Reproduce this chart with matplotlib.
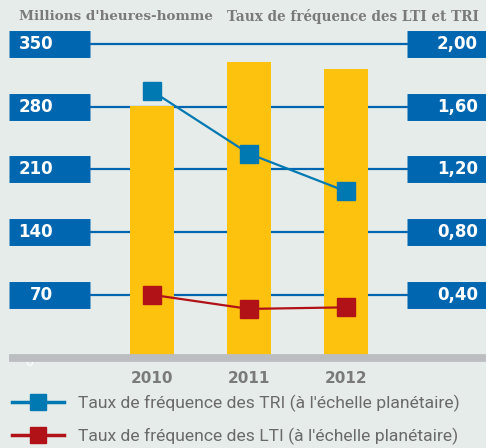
import matplotlib.pyplot as plt
from matplotlib.lines import Line2D

# data
years = ["2010", "2011", "2012"]
heures = [281, 330, 322]          # millions d'heures-homme (bars)
tri = [1.70, 1.30, 1.06]          # taux de frequence TRI
lti = [0.40, 0.31, 0.32]          # taux de frequence LTI
left_ticks = [70, 140, 210, 280, 350]
right_ticks = [0.40, 0.80, 1.20, 1.60, 2.00]

bg = "#e6ecea"
blue_box = "#0066b0"
bar_col = "#fdc20e"
tri_col = "#0079b2"
lti_col = "#b01218"
grey_txt = "#7a7a7a"

W, H = 486, 448
fig = plt.figure(figsize=(W / 100, H / 100), dpi=100, facecolor=bg)

# axes placed so that 0 sits on the grey baseline and 350 on the top grid line
ax = fig.add_axes([0, 90.5 / H, 1, 313.5 / H])
ax.set_facecolor("none")
ax.set_xlim(-152 / 97, (W - 152) / 97)
ax.set_ylim(0, 350)
for s in ax.spines.values():
    s.set_visible(False)

x = range(len(years))
ax.bar(x, heures, width=44 / 97, color=bar_col, zorder=3)

# grid lines with boxed labels on both sides
for i, v in enumerate(left_ticks):
    ax.axhline(v, xmin=90 / W, xmax=407 / W, color=blue_box, lw=1.6,
               clip_on=False, zorder=1)
    ax.axhline(v, xmin=9 / W, xmax=90 / W, color=blue_box, lw=19.4,
               solid_capstyle="butt", clip_on=False, zorder=2)
    ax.axhline(v, xmin=407 / W, xmax=1, color=blue_box, lw=19.4,
               solid_capstyle="butt", clip_on=False, zorder=2)
    ax.text(53 / W, v, str(v), transform=ax.get_yaxis_transform(), ha="right",
            va="center", color="white", fontsize=12, fontweight="bold", zorder=4)
    ax.text(478 / W, v, f"{right_ticks[i]:.2f}".replace(".", ","),
            transform=ax.get_yaxis_transform(), ha="right", va="center",
            color="white", fontsize=12, fontweight="bold", zorder=4)

# zero label mostly hidden behind the grey baseline
ax.text(33 / W, -6, "0", transform=ax.get_yaxis_transform(), ha="right",
        va="center", color="white", fontsize=9, clip_on=False, zorder=4)
ax.axhline(0, xmin=9 / W, xmax=1, color="#bcbdc0", lw=5.6,
           solid_capstyle="butt", clip_on=False, zorder=5)

ax.set_xticks(list(x), years)
ax.tick_params(axis="x", length=0, pad=10, labelsize=11, labelcolor=grey_txt)
for t in ax.get_xticklabels():
    t.set_fontweight("bold")
ax.set_yticks([])

ax2 = ax.twinx()
ax2.set_ylim(0, 2.0)
ax2.set_yticks([])
for s in ax2.spines.values():
    s.set_visible(False)
ax2.plot(x, tri, color=tri_col, lw=1.6, marker="s", ms=13, zorder=6)
ax2.plot(x, lti, color=lti_col, lw=1.6, marker="s", ms=13, zorder=6)

# titles above both scales
fig.text(19 / W, 1 - 17 / H, "Millions d'heures-homme", ha="left", va="center",
         family="DejaVu Serif", fontweight="bold", fontsize=9.7, color=grey_txt)
fig.text(479 / W, 1 - 17 / H, "Taux de fréquence des LTI et TRI", ha="right",
         va="center", family="DejaVu Serif", fontweight="bold", fontsize=9.8,
         color=grey_txt)

handles = [
    Line2D([], [], color=tri_col, lw=2.5, marker="s", ms=11.5),
    Line2D([], [], color=lti_col, lw=2.5, marker="s", ms=11.5),
]
labels = [
    "Taux de fréquence des TRI (à l'échelle planétaire)",
    "Taux de fréquence des LTI (à l'échelle planétaire)",
]
leg = fig.legend(handles, labels, loc="upper left",
                 bbox_to_anchor=(12 / W, 1 - 395 / H), frameon=False,
                 borderpad=0, borderaxespad=0,
                 handlelength=2.95, handletextpad=0.8, labelspacing=0.9,
                 prop={"family": "Roboto", "size": 12.6})
for t in leg.get_texts():
    t.set_color("#6a6a6a")

fig.savefig("out.png", dpi=100, facecolor=bg)
